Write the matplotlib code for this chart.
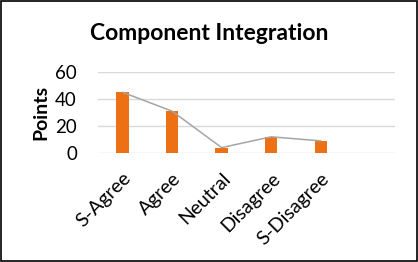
import matplotlib
matplotlib.use("Agg")
import matplotlib.pyplot as plt
from matplotlib.patches import Rectangle

categories = ["S-Agree", "Agree", "Neutral", "Disagree", "S-Disagree", ""]
bar_values = [45, 31, 4, 12, 9]
line_values = [45, 31, 4, 12, 9]
y_ticks = [0, 20, 40, 60]

plt.rcParams['font.family'] = ['Lato', 'DejaVu Sans']

fig = plt.figure(figsize=(4.18, 2.62), dpi=100)
ax = fig.add_axes([0.234, 0.416, 0.711, 0.309])

x = list(range(len(categories)))
ax.bar(x[:len(bar_values)], bar_values, width=0.25, color='#ED7014', zorder=3)
ax.plot(x[:len(line_values)], line_values, color='#A5A5A5', linewidth=1.1, zorder=4)

ax.set_xlim(-0.5, len(categories) - 0.5)
ax.set_ylim(0, 60)
ax.set_yticks(y_ticks)
ax.set_yticklabels([str(v) for v in y_ticks], fontsize=13.5)
ax.set_xticks(x)
ax.set_xticklabels(categories, fontsize=14, rotation=45, ha='right',
                   rotation_mode='anchor')
ax.tick_params(axis='both', length=0)
ax.tick_params(axis='x', pad=12)
ax.tick_params(axis='y', pad=15)
ax.grid(axis='y', color='#D9D9D9', linewidth=1, zorder=0)
for s in ax.spines.values():
    s.set_visible(False)
ax.set_ylabel("Points", fontsize=14, fontweight='bold', labelpad=4)

fig.text(0.5, 0.872, "Component Integration", ha='center', va='center',
         fontsize=16.5, fontweight='bold')

fig.patches.append(Rectangle((0.002, 0.003), 0.995, 0.993, transform=fig.transFigure,
                             fill=False, edgecolor='black', linewidth=1.2))

fig.savefig("out.png", dpi=100)
